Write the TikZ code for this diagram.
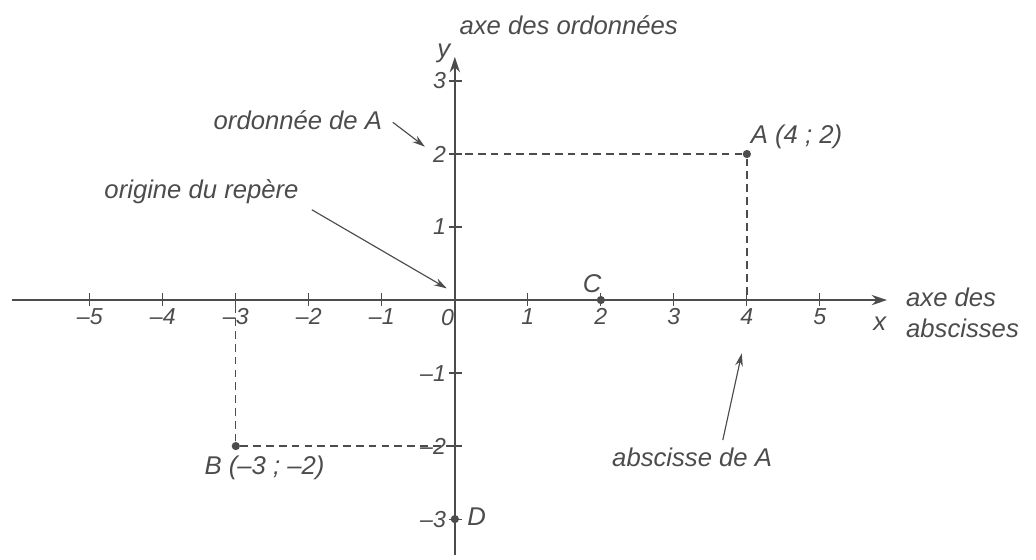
\documentclass[tikz,border=0pt]{standalone}
\usepackage{fontspec}
\setmainfont{Liberation Sans}
\usepackage{xcolor}
\usetikzlibrary{arrows.meta, positioning}
\definecolor{ink}{gray}{0.3}

\begin{document}
\begin{tikzpicture}[
  lbl/.style={font=\itshape\fontsize{10}{12}\selectfont, text=ink, inner sep=1pt},
  num/.style={font=\itshape\fontsize{9}{10}\selectfont, text=ink, inner sep=1pt},
  axis/.style={draw=ink, line width=0.6pt, -{Stealth[length=6pt, width=4pt]}},
  guide/.style={draw=ink, line width=0.5pt, dash pattern=on 3pt off 2pt},
  pointer/.style={draw=ink, line width=0.45pt, -{Stealth[length=5pt, width=3pt]}},
  dot/.style={circle, fill=ink, inner sep=0pt, minimum size=3.2pt},
]
\useasboundingbox (-6.23,-3.55) rectangle (7.96,4.11);

% Axes
\coordinate (xstart) at (-6.07,0);
\coordinate (xend) at (5.92,0);
\coordinate (ystart) at (0,-3.49);
\coordinate (yend) at (0,3.33);
\draw[axis] (xstart) -- (xend);
\draw[axis] (ystart) -- (yend);
\node[lbl] (xname) at (5.82,-0.32) {x};
\node[lbl] (yname) at (-0.15,3.38) {y};

% Graduations
\foreach \i/\t in {-5/--5, -4/--4, -3/--3, -2/--2, -1/--1, 1/1, 2/2, 3/3, 4/4, 5/5} {
  \draw[draw=ink, line width=0.45pt] (\i,-0.08) -- (\i,0.1);
  \node[num, anchor=north] (xl\i) at (\i,-0.07) {\t};
}
\foreach \j/\t in {-3/--3, -2/--2, -1/--1, 1/1, 2/2, 3/3} {
  \draw[draw=ink, line width=0.45pt] (-0.08,\j) -- (0.1,\j);
  \node[num, anchor=east] (yl\j) at (-0.08,\j) {\t};
}
\node[num] (zero) at (-0.1,-0.24) {0};

% Axis names
\node[lbl] (ordname) at (1.56,3.77) {axe des ordonnées};
\node[lbl, align=left, anchor=west] (absname) at (6.14,-0.18) {axe des\\abscisses};

% Points
\node[dot] (A) at (4,2) {};
\node[dot] (B) at (-3,-2) {};
\node[dot] (C) at (2,0) {};
\node[dot] (D) at (0,-3) {};
\node[lbl] (Alab) at (4.68,2.23) {A (4 ; 2)};
\node[lbl, anchor=west] (Blab) at (-3.47,-2.3) {B (--3 ; --2)};
\node[lbl] (Clab) at (1.88,0.23) {C};
\node[lbl] (Dlab) at (0.3,-2.97) {D};

% Projections
\coordinate (Ax) at (4,0);
\coordinate (Ay) at (0,2);
\coordinate (Bx) at (-3,0);
\coordinate (By) at (0,-2);
\draw[guide] (A) -- (Ay);
\draw[guide] (A) -- (Ax);
\draw[guide] (B) -- (Bx);
\draw[guide] (B) -- (By);

% Comments
\node[lbl] (ordA) at (-2.15,2.47) {ordonnée de A};
\node[lbl] (orig) at (-3.47,1.48) {origine du repère};
\node[lbl] (absA) at (3.25,-2.16) {abscisse de A};
\coordinate (ordtip) at (-0.41,2.1);
\coordinate (origtip) at (-0.11,0.16);
\coordinate (abstip) at (3.93,-0.73);
\draw[pointer] ([xshift=3pt, yshift=-1pt]ordA.east) -- (ordtip);
\draw[pointer] ([xshift=4pt, yshift=-1pt]orig.south east) -- (origtip);
\draw[pointer] ([xshift=0.42cm, yshift=2pt]absA.north) -- (abstip);
\end{tikzpicture}
\end{document}
